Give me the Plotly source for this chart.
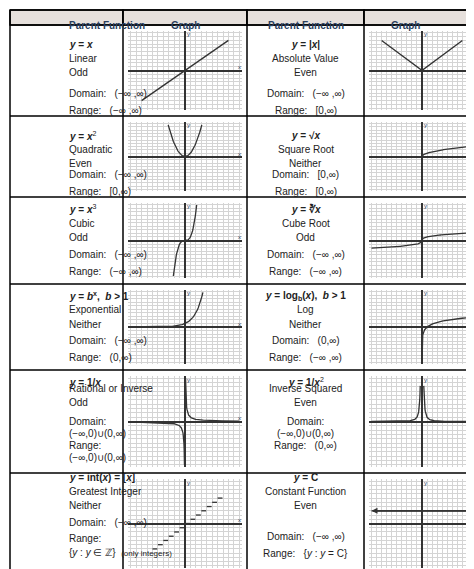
import numpy as np
import plotly.graph_objects as go

W, H = 474, 569

# table rows (pixel boundaries) and columns
row_edges = [17, 108, 189, 276, 362, 465, 566]
col_edges = [2, 115, 239, 356, 472]

headers = ["Parent Function", "Graph", "Parent Function", "Graph"]

# text cells: (equation, name, symmetry, domain, range)
left_cells = [
    ("<b><i>y</i> = <i>x</i></b>", "Linear", "Odd", "(−∞ ,∞)", "(−∞ ,∞)"),
    ("<b><i>y</i> = <i>x</i></b><sup>2</sup>", "Quadratic", "Even", "(−∞ ,∞)", "[0,∞)"),
    ("<b><i>y</i> = <i>x</i></b><sup>3</sup>", "Cubic", "Odd", "(−∞ ,∞)", "(−∞ ,∞)"),
    ("<b><i>y</i> = <i>b</i><sup>x</sup>,  <i>b</i> > 1</b>", "Exponential", "Neither", "(−∞ ,∞)", "(0,∞)"),
    ("<b><i>y</i> = 1/<i>x</i></b>", "Rational or Inverse", "Odd", "(−∞,0)∪(0,∞)", "(−∞,0)∪(0,∞)"),
    ("<b><i>y</i> = int(<i>x</i>) = [<i>x</i>]</b>", "Greatest Integer", "Neither", "(−∞ ,∞)", "{<i>y</i> : <i>y</i> ∈ ℤ}  <span style='font-size:8px'>(only integers)</span>"),
]
right_cells = [
    ("<b><i>y</i> = |<i>x</i>|</b>", "Absolute Value", "Even", "(−∞ ,∞)", "[0,∞)"),
    ("<b><i>y</i> = √<i>x</i></b>", "Square Root", "Neither", "[0,∞)", "[0,∞)"),
    ("<b><i>y</i> = ∛<i>x</i></b>", "Cube Root", "Odd", "(−∞ ,∞)", "(−∞ ,∞)"),
    ("<b><i>y</i> = log<sub>b</sub>(<i>x</i>),  <i>b</i> > 1</b>", "Log", "Neither", "(0,∞)", "(−∞ ,∞)"),
    ("<b><i>y</i> = 1/<i>x</i></b><sup>2</sup>", "Inverse Squared", "Even", "(−∞,0)∪(0,∞)", "(0,∞)"),
    ("<b><i>y</i> = C</b>", "Constant Function", "Even", "(−∞ ,∞)", "{<i>y</i> : <i>y</i> = C}"),
]

# function curves
x_lin = np.linspace(-8, 8, 50)
x_quad = np.linspace(-3.1, 3.1, 80)
x_cub = np.linspace(-2.15, 2.15, 80)
x_exp = np.linspace(-10, 3.3, 80)
x_pos = np.linspace(0.1, 10, 200)
x_neg = -x_pos[::-1]
x_sqrt = np.linspace(0, 10, 100)
x_cbrt = np.linspace(-10, 10, 201)
x_log = np.geomspace(0.0001, 10, 200)
step_x = np.arange(-6, 7)
const_c = 3

graphs = [
    [(x_lin, x_lin)],
    [(x_lin, np.abs(x_lin))],
    [(x_quad, x_quad ** 2)],
    [(x_sqrt, np.sqrt(x_sqrt))],
    [(x_cub, x_cub ** 3)],
    [(x_cbrt, np.cbrt(x_cbrt))],
    [(x_exp, 2.0 ** x_exp)],
    [(x_log, np.log(x_log) * 1.2)],
    [(x_neg, 1 / x_neg), (x_pos, 1 / x_pos)],
    [(x_neg, 1 / x_neg ** 2), (x_pos, 1 / x_pos ** 2)],
    "step",
    [(np.array([-10, 10]), np.array([const_c, const_c]))],
]
arrows = [True, True, True, False, True, False, False, False, False, False, False, True]

fig = go.Figure()
FONT = "Liberation Sans"
shapes, annos = [], []

def px_x(p):
    return p / W

def px_y(p):
    return 1 - p / H

# table lines
line = dict(color="black", width=1.5)
for e in col_edges:
    shapes.append(dict(type="line", xref="paper", yref="paper", x0=px_x(e), x1=px_x(e),
                       y0=px_y(2), y1=px_y(566), line=line))
for e in [2] + row_edges:
    shapes.append(dict(type="line", xref="paper", yref="paper", x0=px_x(2), x1=px_x(472),
                       y0=px_y(e), y1=px_y(e), line=line))
for i, h in enumerate(headers):
    shapes.append(dict(type="rect", xref="paper", yref="paper", x0=px_x(col_edges[i]), x1=px_x(col_edges[i + 1]),
                       y0=px_y(17), y1=px_y(2), fillcolor="#e6e0dc", line=line, layer="below"))
    annos.append(dict(text="<b>" + h + "</b>", x=px_x((col_edges[i] + col_edges[i + 1]) / 2), y=px_y(9.5),
                      xref="paper", yref="paper", showarrow=False, font=dict(size=10, family=FONT)))

# text cells
for r in range(6):
    top, bot = row_edges[r], row_edges[r + 1]
    for ci, cells in ((0, left_cells), (2, right_cells)):
        eq, name, sym, dom, rng = cells[r]
        cx = px_x((col_edges[ci] + col_edges[ci + 1]) / 2)
        f = dict(size=10, family=FONT, color="#222")
        annos.append(dict(text=eq, x=cx, y=px_y(top + 12), xref="paper", yref="paper", showarrow=False, font=f))
        annos.append(dict(text=name, x=cx, y=px_y(top + 26), xref="paper", yref="paper", showarrow=False, font=f))
        annos.append(dict(text=sym, x=cx, y=px_y(top + 40), xref="paper", yref="paper", showarrow=False, font=f))
        if "∪" in dom or "ℤ" in rng:
            annos.append(dict(text="Domain:" if "∪" in dom else "Domain:   " + dom, x=cx, y=px_y(bot - 44),
                              xref="paper", yref="paper", showarrow=False, font=f))
            if "∪" in dom:
                annos.append(dict(text=dom, x=cx, y=px_y(bot - 32), xref="paper", yref="paper", showarrow=False, font=f))
                annos.append(dict(text="Range:   " + rng if "∪" not in rng else "Range:", x=cx, y=px_y(bot - 20),
                                  xref="paper", yref="paper", showarrow=False, font=f))
                if "∪" in rng:
                    annos.append(dict(text=rng, x=cx, y=px_y(bot - 8), xref="paper", yref="paper", showarrow=False, font=f))
            else:
                annos.append(dict(text="Range:", x=cx, y=px_y(bot - 28), xref="paper", yref="paper", showarrow=False, font=f))
                annos.append(dict(text=rng, x=cx, y=px_y(bot - 14), xref="paper", yref="paper", showarrow=False, font=f))
        else:
            annos.append(dict(text="Domain:   " + dom, x=cx, y=px_y(bot - 30), xref="paper", yref="paper", showarrow=False, font=f))
            annos.append(dict(text="Range:   " + rng, x=cx, y=px_y(bot - 13), xref="paper", yref="paper", showarrow=False, font=f))

# graphs
layout_axes = {}
for k in range(12):
    r, side = k // 2, k % 2
    top, bot = row_edges[r], row_edges[r + 1]
    gc = 1 if side == 0 else 3
    x0, x1 = col_edges[gc] + 5, col_edges[gc + 1] - 5
    y0, y1 = top + 6, bot - 6
    n = k + 1
    xa, ya = f"xaxis{n}", f"yaxis{n}"
    xr, yr = ("x" if n == 1 else f"x{n}"), ("y" if n == 1 else f"y{n}")
    axcommon = dict(showgrid=True, gridcolor="#d4d4d4", gridwidth=1, dtick=1, showticklabels=False,
                    zeroline=True, zerolinecolor="#333", zerolinewidth=1.5, fixedrange=True)
    layout_axes[xa] = dict(axcommon, domain=[px_x(x0), px_x(x1)], range=[-10.5, 10.5], anchor=yr)
    layout_axes[ya] = dict(axcommon, domain=[px_y(y1), px_y(y0)], range=[-10.5, 10.5], anchor=xr)
    g = graphs[k]
    if g == "step":
        for s in step_x:
            fig.add_trace(go.Scatter(x=[s, s + 0.9], y=[s, s], mode="lines", line=dict(color="#333", width=1.3),
                                     xaxis=xr, yaxis=yr, showlegend=False))
    else:
        for gx, gy in g:
            m = (gy <= 10.3) & (gy >= -10.3)
            fig.add_trace(go.Scatter(x=gx[m], y=gy[m], mode="lines", line=dict(color="#333", width=1.3),
                                     xaxis=xr, yaxis=yr, showlegend=False))
        if arrows[k]:
            gx, gy = g[0]
            m = (gy <= 10.3) & (gy >= -10.3)
            gx, gy = gx[m], gy[m]
            for (ax_, ay_, hx, hy) in ((gx[1], gy[1], gx[0], gy[0]), (gx[-2], gy[-2], gx[-1], gy[-1])):
                annos.append(dict(x=hx, y=hy, ax=ax_, ay=ay_, xref=xr, yref=yr, axref=xr, ayref=yr,
                                  showarrow=True, arrowhead=2, arrowsize=1, arrowwidth=1.2, arrowcolor="#333", text=""))
    annos.append(dict(text="y", x=0.6, y=9.6, xref=xr, yref=yr, showarrow=False, font=dict(size=6, family=FONT)))
    annos.append(dict(text="x", x=10, y=0.9, xref=xr, yref=yr, showarrow=False, font=dict(size=6, family=FONT)))

fig.update_layout(width=W, height=H, margin=dict(l=0, r=0, t=0, b=0), paper_bgcolor="white",
                  plot_bgcolor="white", shapes=shapes, annotations=annos, **layout_axes)
fig.write_html("out.html")
